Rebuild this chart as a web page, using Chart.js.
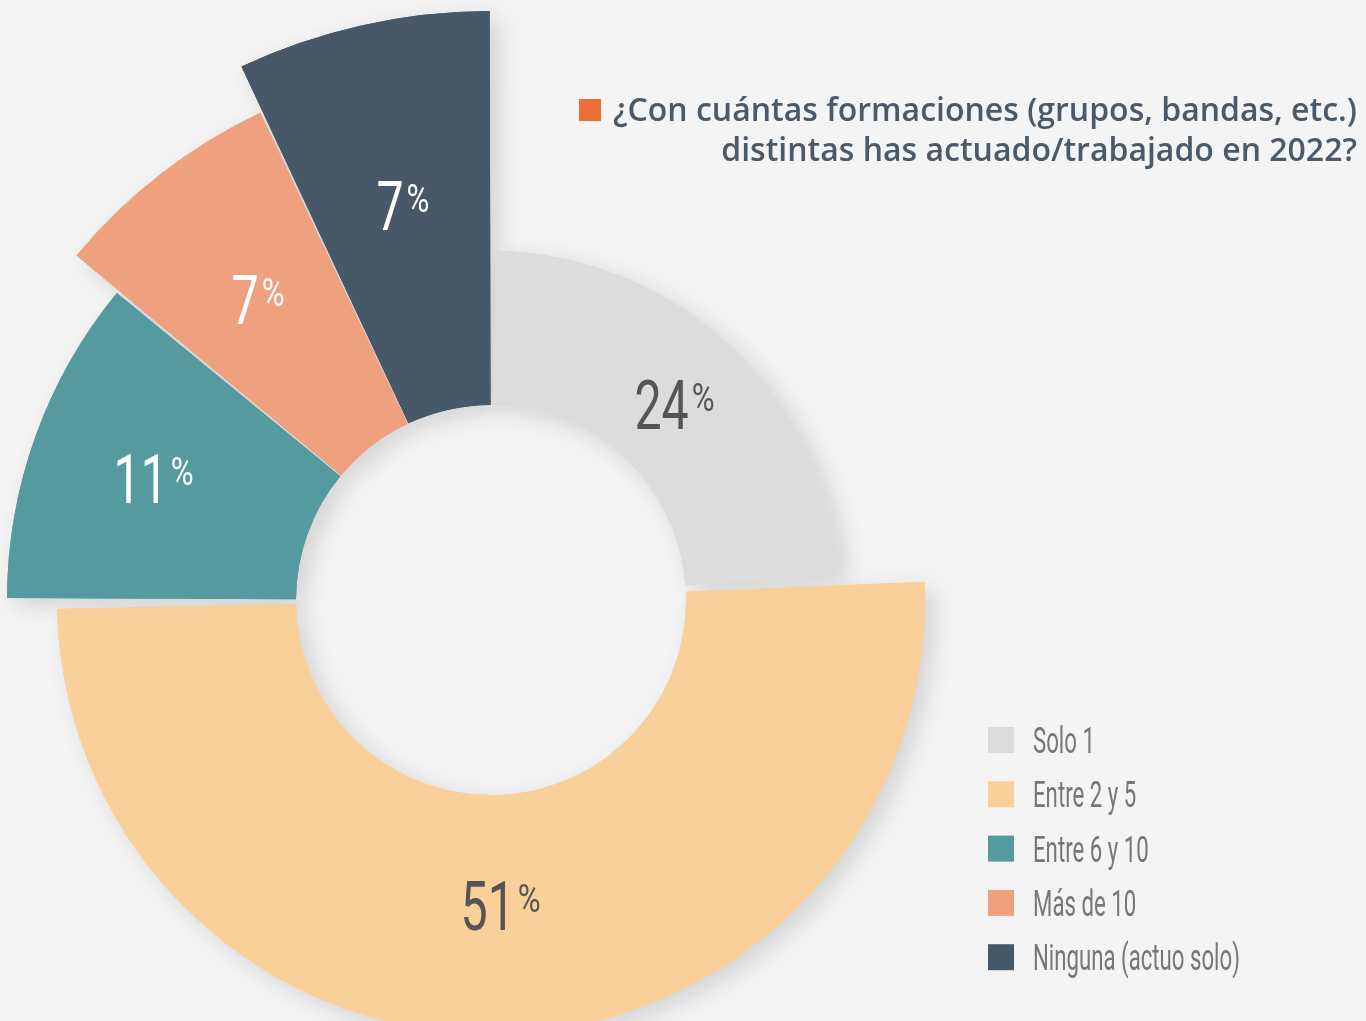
<!DOCTYPE html>
<html lang="es">
<head>
<meta charset="utf-8">
<title>Formaciones 2022</title>
<script src="https://cdn.jsdelivr.net/npm/chart.js@4.4.1/dist/chart.umd.min.js"></script>
<style>
    html, body { margin: 0; padding: 0; background: #f4f4f4; }
    #wrap { position: relative; width: 1366px; height: 1021px; overflow: hidden; }
    #donut { position: absolute; left: 0; top: 0; }
    #title {
        position: absolute; right: 9px; top: 89px;
        text-align: right;
        font-family: 'Open Sans', sans-serif; font-weight: 600;
        font-size: 32px; line-height: 40px; color: #4a5a69;
        white-space: nowrap;
    }
    #title .mark {
        display: inline-block; width: 22px; height: 22px;
        background: #ea6f37; margin-right: 12px; vertical-align: 0;
    }
</style>
</head>
<body>
<div id="wrap">
    <canvas id="donut" width="1366" height="1021"></canvas>
    <div id="title"><span class="mark"></span>¿Con cuántas formaciones (grupos, bandas, etc.)<br>distintas has actuado/trabajado en 2022?</div>
</div>
<script>
// Data
const categories = ['Solo 1', 'Entre 2 y 5', 'Entre 6 y 10', 'Más de 10', 'Ninguna (actuo solo)'];
const percentages = [24, 51, 11, 7, 7];

// Styles
const SLICE_COLORS = ['#dcdcdc', '#f9d099', '#549a9e', '#efa07f', '#475868'];
const LABEL_COLORS = ['#555555', '#555555', '#ffffff', '#ffffff', '#ffffff'];
const OUTER_RADIUS = [345, 430, 480, 535, 585];   // decorative, each slice sticks out differently
const LABEL_POS = [0.5, 0.48, 0.58, 0.55, 0.54];  // where the label sits between inner and outer edge
const NUM_SCALE_X = 0.7;
const PCT_SCALE_X = 0.82;
const LEGEND_SCALE_X = 0.6;

/**
 * Per-slice radius, drop shadow, value labels and legend
 */
const sliceShapes = {
    id: 'sliceShapes',
    afterDatasetsUpdate(chart) {
        const meta = chart.getDatasetMeta(0);
        meta.data.forEach((arc, i) => { arc.outerRadius = OUTER_RADIUS[i]; });
    },
    beforeDatasetsDraw(chart) {
        // shadow pass under all slices
        const ctx = chart.ctx;
        ctx.save();
        ctx.shadowColor = 'rgba(0, 0, 0, 0.14)';
        ctx.shadowBlur = 24;
        ctx.shadowOffsetX = 9;
        ctx.shadowOffsetY = 7;
        chart.getDatasetMeta(0).data.forEach(arc => arc.draw(ctx));
        ctx.restore();
    },
    afterDatasetsDraw(chart) {
        const ctx = chart.ctx;
        chart.getDatasetMeta(0).data.forEach((arc, i) => drawValueLabel(ctx, arc, i));
        drawLegend(ctx);
    }
};

function drawValueLabel(ctx, arc, i) {
    const mid = (arc.startAngle + arc.endAngle) / 2;
    const r = arc.innerRadius + LABEL_POS[i] * (arc.outerRadius - arc.innerRadius);
    const x = arc.x + Math.cos(mid) * r;
    const y = arc.y + Math.sin(mid) * r;
    const num = String(percentages[i]);

    ctx.save();
    ctx.textAlign = 'left';
    ctx.textBaseline = 'alphabetic';
    ctx.fillStyle = LABEL_COLORS[i];
    ctx.font = '400 69px Roboto';
    const numW = ctx.measureText(num).width * NUM_SCALE_X;
    ctx.font = '400 38px Roboto';
    const pctW = ctx.measureText('%').width * PCT_SCALE_X;
    const gap = 3;
    const left = x - (numW + gap + pctW) / 2;

    ctx.save();
    ctx.translate(left, y + 24);
    ctx.scale(NUM_SCALE_X, 1);
    ctx.font = '400 69px Roboto';
    ctx.fillText(num, 0, 0);
    ctx.restore();

    ctx.save();
    ctx.translate(left + numW + gap, y + 6);
    ctx.scale(PCT_SCALE_X, 1);
    ctx.font = '400 38px Roboto';
    ctx.fillText('%', 0, 0);
    ctx.restore();
    ctx.restore();
}

function drawLegend(ctx) {
    ctx.save();
    categories.forEach((name, i) => {
        const cy = 740 + i * 54.3;
        ctx.fillStyle = SLICE_COLORS[i];
        ctx.fillRect(988, cy - 13, 26, 26);
        ctx.save();
        ctx.translate(1033, cy + 13);
        ctx.scale(LEGEND_SCALE_X, 1);
        ctx.font = '400 37px Roboto';
        ctx.fillStyle = '#777777';
        ctx.textAlign = 'left';
        ctx.textBaseline = 'alphabetic';
        ctx.fillText(name, 0, 0);
        ctx.restore();
    });
    ctx.restore();
}

new Chart(document.getElementById('donut'), {
    type: 'doughnut',
    data: {
        labels: categories,
        datasets: [{
            data: percentages,
            backgroundColor: SLICE_COLORS,
            borderWidth: 0,
            spacing: 8
        }]
    },
    options: {
        responsive: false,
        animation: false,
        cutout: 191,
        layout: { padding: { left: 0, right: 384, top: 179, bottom: 0 } },
        events: [],
        plugins: {
            legend: { display: false },
            tooltip: { enabled: false }
        }
    },
    plugins: [sliceShapes]
});
</script>
</body>
</html>
